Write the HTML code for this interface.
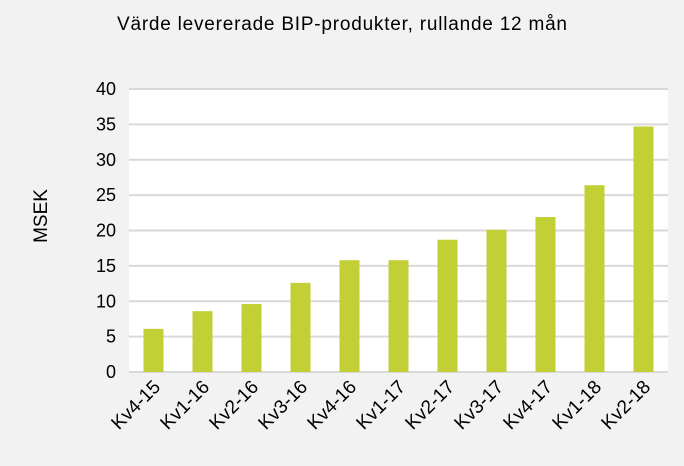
<!DOCTYPE html>
<html><head><meta charset="utf-8"><style>
html,body{margin:0;padding:0;background:#f2f2f2;}
svg{display:block;font-family:"Liberation Sans",Arial,sans-serif;}
</style></head><body>
<svg id="chart" width="684" height="466" viewBox="0 0 684 466" xmlns="http://www.w3.org/2000/svg">
<rect x="0" y="0" width="684" height="466" fill="#f2f2f2"/>
<rect x="129" y="89" width="539" height="283" fill="#ffffff"/>
<text x="342" y="30" font-size="19" text-anchor="middle" fill="#000" textLength="450" lengthAdjust="spacing">Värde levererade BIP-produkter, rullande  12 mån</text>
<text transform="translate(47,216) rotate(-90)" font-size="19" text-anchor="middle" fill="#000">MSEK</text>
<g id="grid"></g><g id="bars"></g><g id="yticks"></g><g id="xticks"></g>
</svg>
<script>
const categories=["Kv4-15","Kv1-16","Kv2-16","Kv3-16","Kv4-16","Kv1-17","Kv2-17","Kv3-17","Kv4-17","Kv1-18","Kv2-18"];
const values=[6.1,8.6,9.6,12.6,15.8,15.8,18.7,20.1,21.9,26.4,34.7];
const yTicks=[0,5,10,15,20,25,30,35,40];
const NS="http://www.w3.org/2000/svg";
const L=129,R=668,T=89,B=372,yMax=40;
const y=v=>B-(v/yMax)*(B-T);
const step=(R-L)/categories.length;
const xc=i=>L+step*(i+0.5);
function mk(tag,attrs,parent,txt){const e=document.createElementNS(NS,tag);for(const k in attrs)e.setAttribute(k,attrs[k]);if(txt!==undefined)e.textContent=txt;document.getElementById(parent).appendChild(e);return e;}
yTicks.forEach(t=>{
  const g=mk("line",{x1:L,x2:R,y1:y(t),y2:y(t),stroke:"#d9d9d9","stroke-width":2},"grid");
  
  
  const lb=mk("text",{x:116,y:y(t)+6,"font-size":18,"text-anchor":"end",fill:"#000"},"yticks",String(t));
  
  
});
categories.forEach((c,i)=>{
  const bw=20;
  const r=mk("rect",{x:xc(i)-bw/2,y:y(values[i]),width:bw,height:B-y(values[i]),fill:"#c2cf35"},"bars");
  
  
  const t=mk("text",{transform:`translate(${xc(i)+8},${B+16}) rotate(-45)`,"font-size":19,"text-anchor":"end",fill:"#000"},"xticks",c);
  
  
});
</script>
</body></html>
